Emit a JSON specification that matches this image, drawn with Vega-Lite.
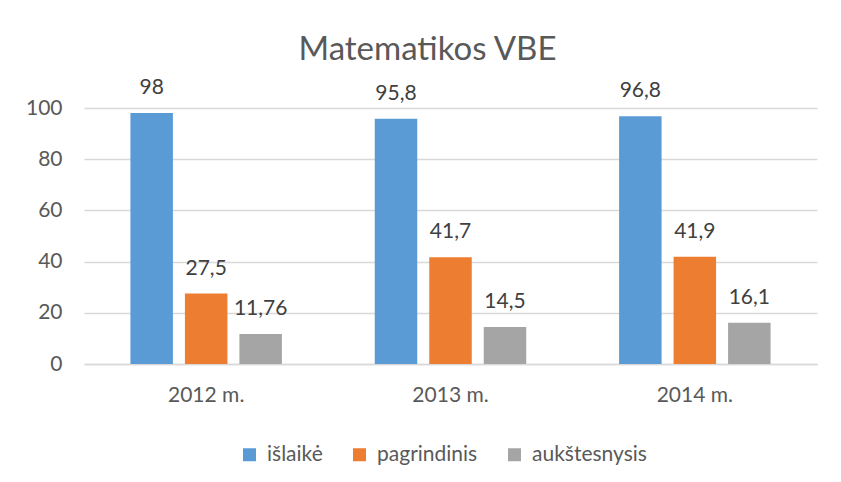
{
  "$schema": "https://vega.github.io/schema/vega-lite/v6.json",
  "width": 733,
  "height": 256,
  "autosize": "none",
  "padding": {"left": 84, "top": 108, "right": 24, "bottom": 118},
  "background": "white",
  "title": {
    "text": "Matematikos VBE",
    "font": "Lato",
    "fontSize": 33,
    "fontWeight": "normal",
    "color": "#595959",
    "anchor": "middle",
    "dx": -23,
    "dy": 46,
    "baseline": "alphabetic",
    "offset": 30
  },
  "data": {
    "values": [
      {"metai": "2012 m.", "grupe": "išlaikė", "reiksme": 98, "etikete": "98"},
      {"metai": "2012 m.", "grupe": "pagrindinis", "reiksme": 27.5, "etikete": "27,5"},
      {"metai": "2012 m.", "grupe": "aukštesnysis", "reiksme": 11.76, "etikete": "11,76"},
      {"metai": "2013 m.", "grupe": "išlaikė", "reiksme": 95.8, "etikete": "95,8"},
      {"metai": "2013 m.", "grupe": "pagrindinis", "reiksme": 41.7, "etikete": "41,7"},
      {"metai": "2013 m.", "grupe": "aukštesnysis", "reiksme": 14.5, "etikete": "14,5"},
      {"metai": "2014 m.", "grupe": "išlaikė", "reiksme": 96.8, "etikete": "96,8"},
      {"metai": "2014 m.", "grupe": "pagrindinis", "reiksme": 41.9, "etikete": "41,9"},
      {"metai": "2014 m.", "grupe": "aukštesnysis", "reiksme": 16.1, "etikete": "16,1"}
    ]
  },
  "encoding": {
    "x": {
      "field": "metai",
      "type": "nominal",
      "scale": {"paddingInner": 0.38, "paddingOuter": 0.19},
      "axis": {
        "title": null,
        "labelAngle": 0,
        "labelFont": "Lato",
        "labelFontSize": 21,
        "labelColor": "#595959",
        "labelPadding": 20,
        "ticks": false,
        "domainColor": "#d9d9d9",
        "domainWidth": 1.5,
        "grid": false
      }
    },
    "xOffset": {
      "field": "grupe",
      "type": "nominal",
      "sort": ["išlaikė", "pagrindinis", "aukštesnysis"],
      "scale": {"paddingInner": 0.22, "paddingOuter": 0}
    },
    "y": {
      "field": "reiksme",
      "type": "quantitative",
      "scale": {"domain": [0, 100], "nice": false},
      "axis": {
        "title": null,
        "values": [0, 20, 40, 60, 80, 100],
        "labelFont": "Lato",
        "labelFontSize": 21,
        "labelColor": "#595959",
        "labelPadding": 22,
        "ticks": false,
        "domain": false,
        "gridColor": "#d9d9d9",
        "gridWidth": 1.5
      }
    }
  },
  "layer": [
    {
      "mark": {"type": "bar"},
      "encoding": {
        "color": {
          "field": "grupe",
          "type": "nominal",
          "scale": {
            "domain": ["išlaikė", "pagrindinis", "aukštesnysis"],
            "range": ["#5B9BD5", "#ED7D31", "#A5A5A5"]
          },
          "legend": {
            "title": null,
            "orient": "none",
            "direction": "horizontal",
            "legendX": 155,
            "legendY": 336,
            "padding": 0,
            "symbolType": "square",
            "symbolSize": 169,
            "symbolStrokeWidth": 0,
            "symbolOpacity": 1,
            "labelFont": "Lato",
            "labelFontSize": 21,
            "labelColor": "#595959",
            "labelOffset": 7,
            "columnPadding": 26
          }
        }
      }
    },
    {
      "mark": {
        "type": "text",
        "font": "Lato",
        "fontSize": 21,
        "color": "#404040",
        "baseline": "alphabetic",
        "align": "center",
        "dy": -19
      },
      "encoding": {
        "text": {"field": "etikete", "type": "nominal"}
      }
    }
  ],
  "config": {
    "view": {"stroke": null}
  }
}
